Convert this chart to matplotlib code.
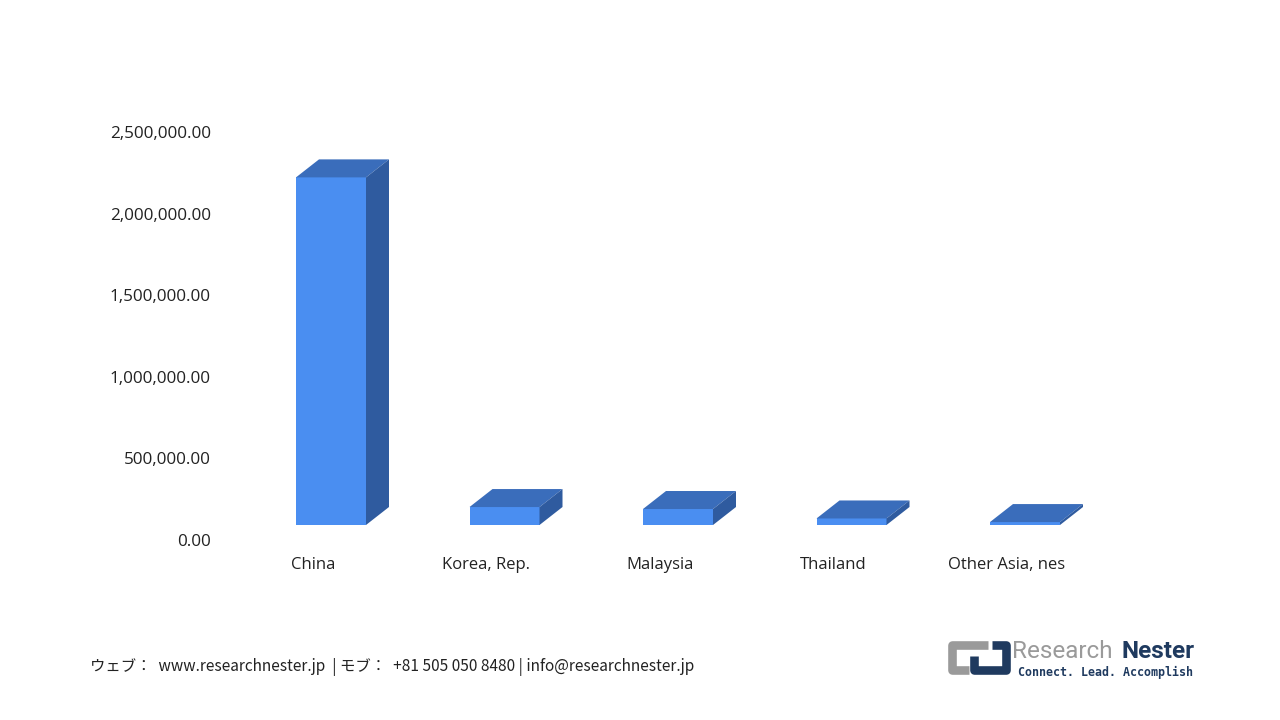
import matplotlib
matplotlib.use("Agg")
import matplotlib.pyplot as plt
from matplotlib.patches import Polygon
import numpy as np

categories = ["China", "Korea, Rep.", "Malaysia", "Thailand", "Other Asia, nes"]
values = [2130000, 110000, 98000, 40000, 18000]
yticks = [0, 500000, 1000000, 1500000, 2000000, 2500000]
ytick_labels = ["0.00", "500,000.00", "1,000,000.00", "1,500,000.00", "2,000,000.00", "2,500,000.00"]
footer = "ウェブ：  www.researchnester.jp  | モブ：  +81 505 050 8480 | info@researchnester.jp"

FRONT = "#4A8EF1"
TOP = "#3A6DBB"
SIDE = "#2F5B9F"

W, H = 1280, 720
fig = plt.figure(figsize=(12.8, 7.2), dpi=100)
fig.patch.set_facecolor("white")

ax_left, ax_right = 226.25, 1093.75
ax_bottom_px, ax_top_px = 540, 132
ax = fig.add_axes([ax_left / W, 1 - ax_bottom_px / H, (ax_right - ax_left) / W, (ax_bottom_px - ax_top_px) / H])
ax.set_xlim(-0.5, 4.5)
ax.set_ylim(0, 2500000)
for s in ax.spines.values():
    s.set_visible(False)
ax.set_facecolor("none")

px_x = 5 / (ax_right - ax_left)
px_y = 2500000 / (ax_bottom_px - ax_top_px)

shift = 18 * px_x
half_w = 35 * px_x
dx = 23 * px_x
dy = 18 * px_y
base = 15 * px_y

x = np.arange(len(categories))
ax.bar(x + shift, values, width=2 * half_w, bottom=base, color=FRONT, edgecolor="none", zorder=3)
for xi, v in zip(x, values):
    x0, x1 = xi + shift - half_w, xi + shift + half_w
    top = base + v
    ax.add_patch(Polygon([(x0, top), (x1, top), (x1 + dx, top + dy), (x0 + dx, top + dy)],
                         closed=True, facecolor=TOP, edgecolor="none", zorder=4))
    ax.add_patch(Polygon([(x1, base), (x1 + dx, base + dy), (x1 + dx, top + dy), (x1, top)],
                         closed=True, facecolor=SIDE, edgecolor="none", zorder=4))

ax.set_xticks(x)
ax.set_xticklabels(categories, fontsize=12, family="Open Sans", color="#222222")
ax.set_yticks(yticks)
ax.set_yticklabels(ytick_labels, fontsize=12.3, family="Open Sans", color="#222222")
ax.tick_params(axis="both", length=0)
ax.tick_params(axis="y", pad=11)
ax.tick_params(axis="x", pad=12)

fig.text(90 / W, 1 - 667 / H, footer, fontsize=11.1, va="center", ha="left",
         family=["Noto Sans CJK JP", "DejaVu Sans"], color="#222222")

# logo
lax = fig.add_axes([0, 0, 1, 1])
lax.set_xlim(0, W)
lax.set_ylim(H, 0)
lax.axis("off")
gray = "#9A9A9A"
navy = "#1F3A5F"
lax.plot([988, 952, 952, 969], [645, 645, 670, 670], color=gray, lw=6.2,
         solid_joinstyle="round", solid_capstyle="butt")
lax.plot([992, 1006, 1006, 974, 974], [645, 645, 670, 670, 656], color=navy, lw=6.2,
         solid_joinstyle="round", solid_capstyle="butt")
lax.text(1112, 652, "Research", fontsize=17.5, color=gray, va="center", ha="right",
         family="Roboto")
lax.text(1195, 652, "Nester", fontsize=17.5, color=navy, va="center", ha="right",
         family="Roboto", fontweight="bold")
lax.text(1018, 672, "Connect. Lead. Accomplish", fontsize=8.4, color=navy, va="center", ha="left",
         family="DejaVu Sans Mono", fontweight="bold")

fig.savefig("out.png", dpi=100, facecolor="white")
